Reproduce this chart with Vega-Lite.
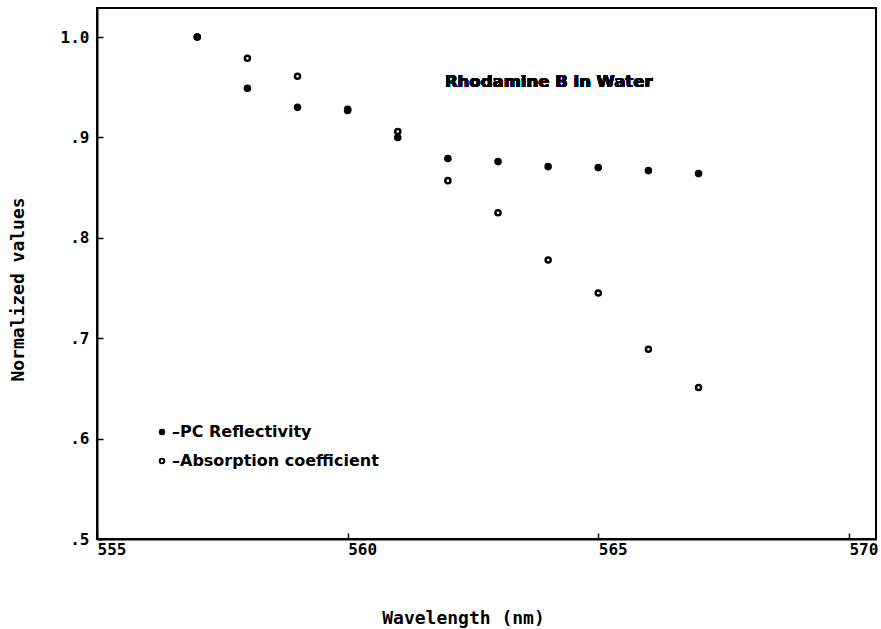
{
  "$schema": "https://vega.github.io/schema/vega-lite/v6.json",
  "width": 779,
  "height": 531,
  "autosize": "none",
  "padding": {"left": 97, "top": 8, "right": 5, "bottom": 90},
  "background": "white",
  "config": {
    "view": {"stroke": "black", "strokeWidth": 2},
    "axis": {
      "domainColor": "black",
      "domainWidth": 2,
      "tickColor": "black",
      "tickWidth": 1.5,
      "grid": false,
      "labelFont": "DejaVu Sans Mono",
      "labelFontWeight": "bold",
      "labelFontSize": 16,
      "labelColor": "black",
      "titleFont": "DejaVu Sans Mono",
      "titleFontWeight": "bold",
      "titleFontSize": 18,
      "titleColor": "black"
    }
  },
  "data": {
    "values": [
      {"wavelength": 557, "value": 1.0, "series": "Absorption coefficient"},
      {"wavelength": 558, "value": 0.979, "series": "Absorption coefficient"},
      {"wavelength": 559, "value": 0.961, "series": "Absorption coefficient"},
      {"wavelength": 560, "value": 0.928, "series": "Absorption coefficient"},
      {"wavelength": 561, "value": 0.906, "series": "Absorption coefficient"},
      {"wavelength": 562, "value": 0.857, "series": "Absorption coefficient"},
      {"wavelength": 563, "value": 0.825, "series": "Absorption coefficient"},
      {"wavelength": 564, "value": 0.778, "series": "Absorption coefficient"},
      {"wavelength": 565, "value": 0.745, "series": "Absorption coefficient"},
      {"wavelength": 566, "value": 0.689, "series": "Absorption coefficient"},
      {"wavelength": 567, "value": 0.651, "series": "Absorption coefficient"},
      {"wavelength": 557, "value": 1.0, "series": "PC Reflectivity"},
      {"wavelength": 558, "value": 0.949, "series": "PC Reflectivity"},
      {"wavelength": 559, "value": 0.930, "series": "PC Reflectivity"},
      {"wavelength": 560, "value": 0.927, "series": "PC Reflectivity"},
      {"wavelength": 561, "value": 0.900, "series": "PC Reflectivity"},
      {"wavelength": 562, "value": 0.879, "series": "PC Reflectivity"},
      {"wavelength": 563, "value": 0.876, "series": "PC Reflectivity"},
      {"wavelength": 564, "value": 0.871, "series": "PC Reflectivity"},
      {"wavelength": 565, "value": 0.870, "series": "PC Reflectivity"},
      {"wavelength": 566, "value": 0.867, "series": "PC Reflectivity"},
      {"wavelength": 567, "value": 0.864, "series": "PC Reflectivity"}
    ]
  },
  "layer": [
    {
      "mark": {"type": "point", "shape": "circle", "stroke": "black", "strokeWidth": 2.5, "size": 26, "opacity": 1},
      "encoding": {
        "x": {
          "field": "wavelength", "type": "quantitative",
          "scale": {"domain": [555, 570.54], "nice": false, "zero": false},
          "axis": {
            "title": "Wavelength (nm)",
            "values": [555, 560, 565, 570],
            "format": "d",
            "tickSize": -6,
            "labelAlign": "left",
            "labelDx": -5,
            "labelPadding": 8,
            "titleX": 366,
            "titleY": 79,
            "titleBaseline": "middle",
            "titleAnchor": "middle"
          }
        },
        "y": {
          "field": "value", "type": "quantitative",
          "scale": {"domain": [0.5, 1.029], "nice": false, "zero": false},
          "axis": {
            "title": "Normalized values",
            "values": [0.5, 0.6, 0.7, 0.8, 0.9, 1.0],
            "labelExpr": "datum.value >= 1 ? format(datum.value, '.1f') : slice(format(datum.value, '.1f'), 1)",
            "tickSize": -6,
            "labelPadding": 14,
            "labelBaseline": "middle",
            "titleX": -79,
            "titleY": 281,
            "titleBaseline": "middle",
            "titleAnchor": "middle"
          }
        },
        "fill": {
          "field": "series", "type": "nominal",
          "scale": {"domain": ["PC Reflectivity", "Absorption coefficient"], "range": ["black", "white"]},
          "legend": {
            "title": null,
            "orient": "none",
            "legendX": 57,
            "legendY": 416,
            "padding": 0,
            "symbolType": "circle",
            "symbolSize": 20,
            "symbolStrokeColor": "black",
            "symbolStrokeWidth": 2,
            "labelExpr": "'\u2013' + datum.label",
            "labelFont": "DejaVu Sans",
            "labelFontWeight": "bold",
            "labelFontSize": 16,
            "labelColor": "black",
            "labelOffset": 2,
            "rowPadding": 13,
            "labelLimit": 400
          }
        }
      }
    },
    {
      "mark": {"type": "text", "text": "Rhodamine B in Water", "align": "left", "baseline": "middle", "font": "DejaVu Sans", "fontWeight": "bold", "fontSize": 16.5, "fill": "black", "stroke": null},
      "encoding": {
        "x": {"datum": 561.94, "type": "quantitative"},
        "y": {"datum": 0.955, "type": "quantitative"}
      }
    }
  ]
}
